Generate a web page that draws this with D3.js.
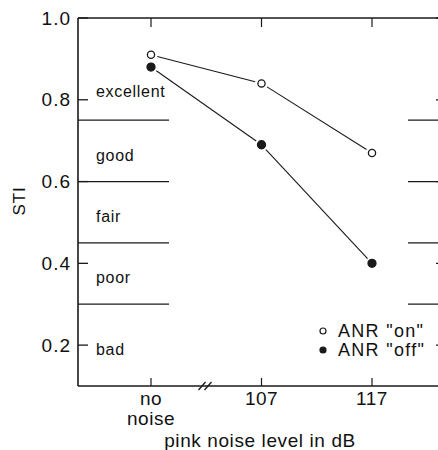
<!DOCTYPE html>
<html><head><meta charset="utf-8">
<script src="https://cdn.jsdelivr.net/npm/d3@7"></script>
<style>body{margin:0;background:#fff}svg{display:block}text{font-family:"Liberation Sans",Arial,sans-serif;fill:#111}</style>
</head><body><svg id="c" width="438" height="450"></svg>
<script>
const categories = ["no noise", "107", "117"];
const anrOn = [0.91, 0.84, 0.67];
const anrOff = [0.88, 0.69, 0.40];
const yTicks = [0.2, 0.4, 0.6, 0.8, 1.0];
const bandLimits = [0.75, 0.6, 0.45, 0.3];
const bandLabels = [{t:"excellent", v:0.82}, {t:"good", v:0.665}, {t:"fair", v:0.515}, {t:"poor", v:0.365}, {t:"bad", v:0.19}];
const legendItems = [{t:'ANR "on"', filled:false}, {t:'ANR "off"', filled:true}];

const svg = d3.select("#c");
const L = 78, R = 446, T = 18, B = 386;
const x = d3.scalePoint().domain(categories).range([151, 372]);
const y = d3.scaleLinear().domain([0.1, 1.0]).range([B, T]);
const ink = "#1a1a1a";

// frame
svg.append("line").attr("x1", L).attr("x2", L).attr("y1", T).attr("y2", B).attr("stroke", ink).attr("stroke-width", 1.6);
svg.append("line").attr("x1", R).attr("x2", R).attr("y1", T).attr("y2", B).attr("stroke", ink).attr("stroke-width", 1.6);
svg.append("line").attr("x1", L).attr("x2", R).attr("y1", T).attr("y2", T).attr("stroke", ink).attr("stroke-width", 1.4);
svg.append("line").attr("x1", L).attr("x2", R).attr("y1", B).attr("y2", B).attr("stroke", ink).attr("stroke-width", 1.6);

// y ticks left and right
yTicks.forEach(v => {
  svg.append("line").attr("x1", L).attr("x2", L + 10).attr("y1", y(v)).attr("y2", y(v)).attr("stroke", ink).attr("stroke-width", 1.3);
  svg.append("line").attr("x1", R - 10).attr("x2", R).attr("y1", y(v)).attr("y2", y(v)).attr("stroke", ink).attr("stroke-width", 1.3);
  svg.append("text").attr("x", 71).attr("y", y(v)).attr("dy", "0.35em").attr("text-anchor", "end")
    .attr("font-size", 19).attr("letter-spacing", 1).text(v.toFixed(1));
});

// x ticks top and bottom
categories.forEach(c => {
  svg.append("line").attr("x1", x(c)).attr("x2", x(c)).attr("y1", T).attr("y2", T + 9).attr("stroke", ink).attr("stroke-width", 1.2);
  svg.append("line").attr("x1", x(c)).attr("x2", x(c)).attr("y1", B).attr("y2", B - 8).attr("stroke", ink).attr("stroke-width", 1.2);
});
// x labels
categories.forEach(c => {
  const parts = c.split(" ");
  const t = svg.append("text").attr("x", x(c)).attr("y", 405).attr("text-anchor", "middle").attr("font-size", 19).attr("letter-spacing", 0.5);
  parts.forEach((p, i) => t.append("tspan").attr("x", x(c)).attr("dy", i === 0 ? 0 : 20).text(p));
});

// break marks
const bx = 205;
[-3, 3].forEach(o => {
  svg.append("line").attr("x1", bx + o - 3.5).attr("x2", bx + o + 3.5).attr("y1", B + 4).attr("y2", B - 4)
    .attr("stroke", ink).attr("stroke-width", 1.4);
});

// band lines
bandLimits.forEach(v => {
  svg.append("line").attr("x1", L).attr("x2", 169).attr("y1", y(v)).attr("y2", y(v)).attr("stroke", ink).attr("stroke-width", 1.3);
  svg.append("line").attr("x1", 408).attr("x2", R).attr("y1", y(v)).attr("y2", y(v)).attr("stroke", ink).attr("stroke-width", 1.3);
});
bandLabels.forEach(b => {
  svg.append("text").attr("x", 96).attr("y", y(b.v)).attr("dy", "0.35em").attr("font-size", 16).attr("letter-spacing", 0.7).text(b.t);
});

// axis titles
svg.append("text").attr("transform", "translate(25,201) rotate(-90)").attr("text-anchor", "middle").attr("font-size", 17).attr("letter-spacing", 0.8).text("STI");
svg.append("text").attr("x", 260).attr("y", 447).attr("text-anchor", "middle").attr("font-size", 19).attr("letter-spacing", 0.6).text("pink noise level in dB");

// data
function series(vals, filled) {
  const pts = vals.map((v, i) => [x(categories[i]), y(v)]);
  const gap = 6.5;
  for (let i = 0; i < pts.length - 1; i++) {
    const [x1, y1] = pts[i], [x2, y2] = pts[i + 1];
    const d = Math.hypot(x2 - x1, y2 - y1), ux = (x2 - x1) / d, uy = (y2 - y1) / d;
    svg.append("line").attr("x1", x1 + ux * gap).attr("y1", y1 + uy * gap).attr("x2", x2 - ux * gap).attr("y2", y2 - uy * gap)
      .attr("stroke", ink).attr("stroke-width", 1.1);
  }
  svg.selectAll(null).data(pts).enter().append("circle").attr("cx", d => d[0]).attr("cy", d => d[1]).attr("r", filled ? 4 : 3.6)
    .attr("fill", filled ? ink : "#fff").attr("stroke", ink).attr("stroke-width", 1.3);
}
series(anrOn, false);
series(anrOff, true);

// legend
legendItems.forEach((it, i) => {
  const ly = 331 + i * 19;
  svg.append("circle").attr("cx", 323).attr("cy", ly).attr("r", 3).attr("fill", it.filled ? ink : "#fff").attr("stroke", ink).attr("stroke-width", 1.2);
  svg.append("text").attr("x", 338).attr("y", ly).attr("dy", "0.35em").attr("font-size", 18).attr("letter-spacing", 1.3).text(it.t);
});
</script></body></html>
